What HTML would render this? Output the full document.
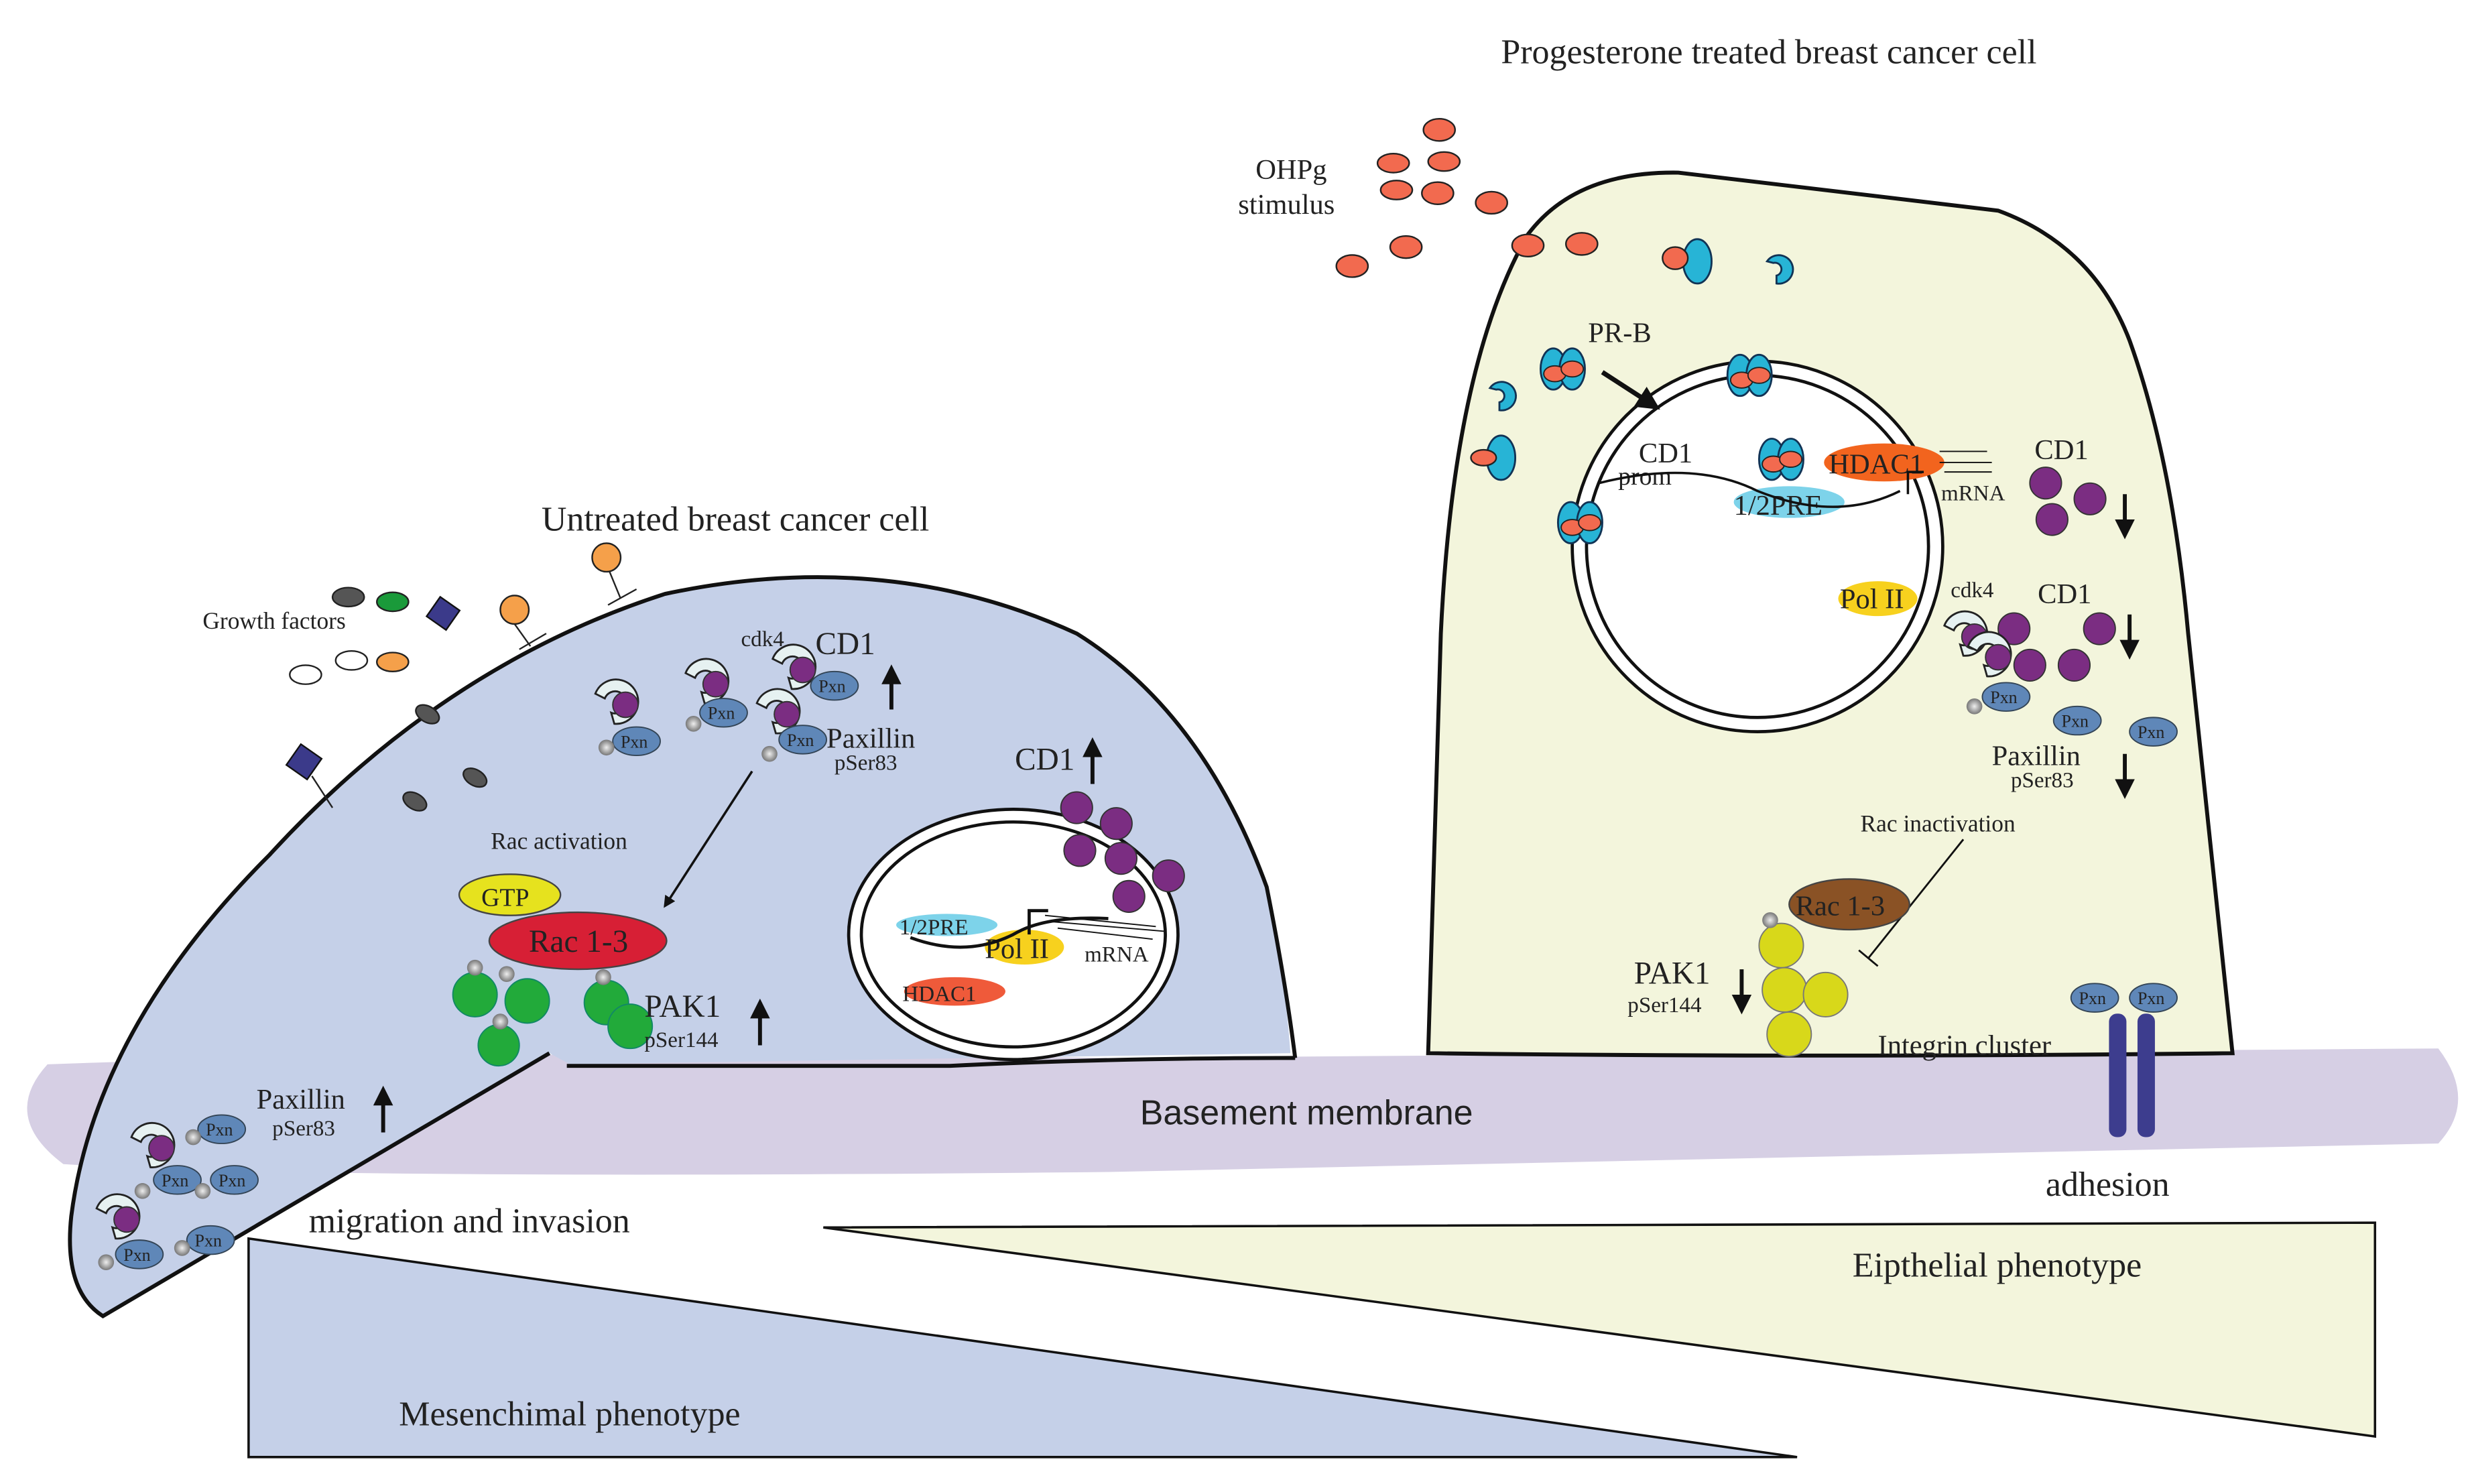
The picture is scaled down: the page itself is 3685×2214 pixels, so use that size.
<!DOCTYPE html>
<html><head><meta charset="utf-8"><style>
html,body{margin:0;padding:0;background:#fff}
svg{display:block}
text{font-family:"Liberation Serif",serif;fill:#222}
.s{font-family:"Liberation Sans",sans-serif}
</style></head><body>
<svg width="3685" height="2214" viewBox="0 0 1560 937" preserveAspectRatio="none" xmlns="http://www.w3.org/2000/svg">
<defs>
<marker id="ah" viewBox="0 0 10 10" refX="8" refY="5" markerWidth="5" markerHeight="5" orient="auto"><path d="M0,0 L10,5 L0,10 Z" fill="#111"/></marker>
<g id="pr"><path d="M-9,-7 a9,9 0 1,1 6,14 l0,-5 a4,4 0 1,0 -2,-8 z" fill="#27b4d6" stroke="#135" stroke-width="1.2"/></g>
<g id="prc"><ellipse cx="-6" cy="0" rx="8" ry="13" fill="#27b4d6" stroke="#135" stroke-width="1.2"/><ellipse cx="6" cy="0" rx="8" ry="13" fill="#27b4d6" stroke="#135" stroke-width="1.2"/><ellipse cx="-5" cy="3" rx="7" ry="5" fill="#f26a4f" stroke="#222" stroke-width="0.8"/><ellipse cx="6" cy="0" rx="7" ry="5" fill="#f26a4f" stroke="#222" stroke-width="0.8"/></g>
<g id="cdk"><path d="M-12,-7 a14,14 0 1,1 12,19 l-2,-7 a7,7 0 1,0 -4,-9z" fill="#e6f1f1" stroke="#222" stroke-width="1.2"/><circle cx="7" cy="0" r="8" fill="#7b2d82" stroke="#333" stroke-width="0.8"/></g>
<g id="pxn"><ellipse cx="0" cy="0" rx="15" ry="9" fill="#5f87b8" stroke="#345" stroke-width="0.8"/><text x="-10" y="4" font-size="11">Pxn</text></g>
<radialGradient id="pg"><stop offset="0" stop-color="#eee"/><stop offset="1" stop-color="#777"/></radialGradient>
</defs>

<path d="M30,672 Q300,662 700,668 L1540,662 Q1565,695 1540,722 L700,740 Q200,745 40,735 Q0,705 30,672Z" fill="#d6cfe4"/>
<text x="720" y="710" font-size="22" class="s">Basement membrane</text>

<polygon points="157,782 157,920 1135,920" fill="#c5d0e8" stroke="#111" stroke-width="1.5"/>
<polygon points="520,775 1500,772 1500,907" fill="#f3f5dc" stroke="#111" stroke-width="1.5"/>
<text x="252" y="900" font-size="22">Mesenchimal phenotype</text>
<text x="1170" y="806" font-size="22">Eipthelial phenotype</text>
<rect x="190" y="755" width="260" height="25" fill="#fff"/>
<text x="195" y="778" font-size="22">migration and invasion</text>
<text x="1292" y="755" font-size="22">adhesion</text>

<path d="M815,665 L360,672 L347,665 L65,831 Q40,815 45,768 Q60,650 170,540 Q280,420 420,375 Q560,345 680,400 Q760,450 800,560 Q812,620 815,665Z" fill="#c5d0e8" stroke="none"/>
<path d="M347,665 L65,831 Q40,815 45,768 Q60,650 170,540 Q280,420 420,375 Q560,345 680,400 Q760,450 800,560 Q812,620 818,668" fill="none" stroke="#111" stroke-width="2.5"/>
<path d="M358,673 L600,673 Q700,668 818,668" stroke="#111" stroke-width="2.5" fill="none"/>

<path d="M902,665 L910,400 Q918,230 965,148 Q995,108 1060,109 L1262,133 Q1322,155 1345,215 Q1372,290 1382,400 L1410,665 Q1150,668 902,665Z" fill="#f3f5dc" stroke="#111" stroke-width="2.5"/>

<text x="342" y="335" font-size="22">Untreated breast cancer cell</text>
<text x="948" y="40" font-size="22">Progesterone treated breast cancer cell</text>

<text x="128" y="397" font-size="15">Growth factors</text>
<ellipse cx="220" cy="377" rx="10" ry="6" fill="#555" stroke="#222"/>
<ellipse cx="248" cy="380" rx="10" ry="6" fill="#1a9a3a" stroke="#222"/>
<rect x="272" y="380" width="15" height="15" transform="rotate(35 280 388)" fill="#3b3a8a" stroke="#111"/>
<ellipse cx="193" cy="426" rx="10" ry="6" fill="#fff" stroke="#222"/>
<ellipse cx="222" cy="417" rx="10" ry="6" fill="#fff" stroke="#222"/>
<ellipse cx="248" cy="418" rx="10" ry="6" fill="#f5a04a" stroke="#222"/>
<ellipse cx="270" cy="451" rx="8" ry="5" fill="#555" stroke="#222" transform="rotate(30 270 451)"/>
<ellipse cx="262" cy="506" rx="8" ry="5" fill="#555" stroke="#222" transform="rotate(30 262 506)"/>
<ellipse cx="300" cy="491" rx="8" ry="5" fill="#555" stroke="#222" transform="rotate(30 300 491)"/>
<circle cx="325" cy="385" r="9" fill="#f5a04a" stroke="#222"/><path d="M325,394 L335,408 M328,410 L345,400" stroke="#222" fill="none"/>
<circle cx="383" cy="352" r="9" fill="#f5a04a" stroke="#222"/><path d="M385,361 L392,378 M384,382 L402,372" stroke="#222" fill="none"/>
<rect x="184" y="473" width="16" height="16" transform="rotate(35 192 481)" fill="#3b3a8a" stroke="#111"/><path d="M197,490 L210,510" stroke="#222"/>

<use href="#cdk" x="388" y="445"/><use href="#pxn" x="402" y="468"/><circle cx="383" cy="472" r="5" fill="url(#pg)"/>
<use href="#cdk" x="445" y="432"/><use href="#pxn" x="457" y="450"/><circle cx="438" cy="457" r="5" fill="url(#pg)"/>
<use href="#cdk" x="500" y="423"/><use href="#pxn" x="527" y="433"/>
<use href="#cdk" x="490" y="451"/><use href="#pxn" x="507" y="467"/><circle cx="486" cy="476" r="5" fill="url(#pg)"/>
<text x="468" y="408" font-size="14">cdk4</text>
<text x="515" y="413" font-size="20">CD1</text>
<path d="M563,448 L563,422" stroke="#111" stroke-width="2.5" marker-end="url(#ah)"/>
<text x="522" y="472" font-size="18">Paxillin</text><text x="527" y="486" font-size="14">pSer83</text>
<text x="310" y="536" font-size="15">Rac activation</text>
<path d="M475,487 L420,572" stroke="#111" stroke-width="1.5" marker-end="url(#ah)"/>
<ellipse cx="322" cy="565" rx="32" ry="13" fill="#e6e21e" stroke="#444"/><text x="304" y="572" font-size="16">GTP</text>
<ellipse cx="365" cy="594" rx="56" ry="18" fill="#d71f35" stroke="#444"/><text x="334" y="601" font-size="20">Rac 1-3</text>
<g fill="#22aa3a" stroke="#186" stroke-width="0.8">
<circle cx="300" cy="628" r="14"/><circle cx="333" cy="632" r="14"/><circle cx="315" cy="660" r="13"/><circle cx="383" cy="633" r="14"/><circle cx="398" cy="648" r="14"/></g>
<g fill="url(#pg)"><circle cx="300" cy="611" r="5"/><circle cx="320" cy="615" r="5"/><circle cx="316" cy="645" r="5"/><circle cx="381" cy="617" r="5"/></g>
<text x="407" y="642" font-size="20">PAK1</text><text x="407" y="661" font-size="14">pSer144</text>
<path d="M480,660 L480,633" stroke="#111" stroke-width="2.5" marker-end="url(#ah)"/>

<use href="#cdk" x="95" y="725"/><use href="#pxn" x="140" y="713"/><circle cx="122" cy="718" r="5" fill="url(#pg)"/>
<use href="#pxn" x="112" y="745"/><circle cx="90" cy="752" r="5" fill="url(#pg)"/><use href="#pxn" x="148" y="745"/><circle cx="128" cy="752" r="5" fill="url(#pg)"/>
<use href="#cdk" x="73" y="770"/><use href="#pxn" x="88" y="792"/><circle cx="67" cy="797" r="5" fill="url(#pg)"/><use href="#pxn" x="133" y="783"/><circle cx="115" cy="788" r="5" fill="url(#pg)"/>
<text x="162" y="700" font-size="18">Paxillin</text><text x="172" y="717" font-size="14">pSer83</text>
<path d="M242,715 L242,688" stroke="#111" stroke-width="2.5" marker-end="url(#ah)"/>

<ellipse cx="640" cy="590" rx="104" ry="79" fill="#fff" stroke="#111" stroke-width="2"/>
<ellipse cx="640" cy="590" rx="96" ry="71" fill="none" stroke="#111" stroke-width="2"/>
<ellipse cx="598" cy="584" rx="32" ry="7" fill="#7dd3ea"/><text x="568" y="590" font-size="14">1/2PRE</text>
<ellipse cx="647" cy="598" rx="25" ry="11" fill="#f7d11e"/><text x="622" y="605" font-size="18">Pol II</text>
<ellipse cx="603" cy="626" rx="32" ry="9" fill="#ef5a3a"/><text x="570" y="632" font-size="14">HDAC1</text>
<path d="M575,592 Q610,605 640,590 Q660,578 700,580 M650,590 L650,575 L662,575" stroke="#111" fill="none" stroke-width="2"/>
<path d="M660,578 L730,585 M665,582 L735,588 M668,586 L728,593" stroke="#111" stroke-width="0.8"/>
<text x="685" y="607" font-size="14">mRNA</text>
<text x="641" y="486" font-size="20">CD1</text>
<path d="M690,495 L690,468" stroke="#111" stroke-width="2.5" marker-end="url(#ah)"/>
<g fill="#7b2d82" stroke="#333" stroke-width="0.8"><circle cx="680" cy="510" r="10"/><circle cx="705" cy="520" r="10"/><circle cx="682" cy="537" r="10"/><circle cx="708" cy="542" r="10"/><circle cx="738" cy="553" r="10"/><circle cx="713" cy="566" r="10"/></g>

<text x="793" y="113" font-size="18">OHPg</text><text x="782" y="135" font-size="18">stimulus</text>
<g fill="#f26a4f" stroke="#222" stroke-width="1">
<ellipse cx="909" cy="82" rx="10" ry="7"/><ellipse cx="880" cy="103" rx="10" ry="6"/><ellipse cx="912" cy="102" rx="10" ry="6"/>
<ellipse cx="882" cy="120" rx="10" ry="6"/><ellipse cx="908" cy="122" rx="10" ry="7"/><ellipse cx="942" cy="128" rx="10" ry="7"/>
<ellipse cx="888" cy="156" rx="10" ry="7"/><ellipse cx="854" cy="168" rx="10" ry="7"/><ellipse cx="965" cy="155" rx="10" ry="7"/><ellipse cx="999" cy="154" rx="10" ry="7"/></g>

<circle cx="1110" cy="345" r="117" fill="#fff" stroke="#111" stroke-width="2"/>
<circle cx="1110" cy="345" r="108" fill="none" stroke="#111" stroke-width="2"/>

<ellipse cx="1072" cy="165" rx="9" ry="14" fill="#27b4d6" stroke="#135" stroke-width="1.2"/><ellipse cx="1058" cy="163" rx="8" ry="7" fill="#f26a4f" stroke="#222"/>
<use href="#pr" x="1125" y="172"/>
<use href="#prc" x="987" y="233"/><use href="#pr" x="950" y="252"/>
<ellipse cx="948" cy="289" rx="9" ry="14" fill="#27b4d6" stroke="#135" stroke-width="1.2"/><ellipse cx="937" cy="289" rx="8" ry="5" fill="#f26a4f" stroke="#222"/>
<use href="#prc" x="1105" y="237"/><use href="#prc" x="998" y="330"/>
<text x="1003" y="216" font-size="18">PR-B</text>
<path d="M1012,235 L1046,257" stroke="#111" stroke-width="3" marker-end="url(#ah)"/>

<ellipse cx="1130" cy="317" rx="35" ry="10" fill="#7dd3ea"/>
<ellipse cx="1190" cy="292" rx="38" ry="12" fill="#f2641e"/><text x="1155" y="299" font-size="18">HDAC1</text>
<use href="#prc" x="1125" y="290"/>
<text x="1035" y="292" font-size="18">CD1</text><text x="1022" y="306" font-size="16">prom</text>
<text x="1095" y="325" font-size="18">1/2PRE</text>
<path d="M1010,305 Q1070,290 1110,310 Q1160,330 1200,310 M1205,312 L1205,298 L1215,298" stroke="#111" fill="none" stroke-width="1.5"/>
<path d="M1225,285 L1255,285 M1225,292 L1258,292 M1228,298 L1258,298" stroke="#111" stroke-width="0.8"/>
<text x="1226" y="316" font-size="14">mRNA</text>
<ellipse cx="1186" cy="378" rx="25" ry="11" fill="#f7d11e"/><text x="1162" y="384" font-size="18">Pol II</text>
<text x="1285" y="290" font-size="18">CD1</text>
<g fill="#7b2d82" stroke="#333" stroke-width="0.8"><circle cx="1292" cy="305" r="10"/><circle cx="1320" cy="315" r="10"/><circle cx="1296" cy="328" r="10"/>
<circle cx="1272" cy="397" r="10"/><circle cx="1326" cy="397" r="10"/><circle cx="1282" cy="420" r="10"/><circle cx="1310" cy="420" r="10"/></g>
<path d="M1342,312 L1342,338" stroke="#111" stroke-width="2.5" marker-end="url(#ah)"/>
<text x="1232" y="377" font-size="14">cdk4</text><text x="1287" y="381" font-size="18">CD1</text>
<path d="M1345,388 L1345,414" stroke="#111" stroke-width="2.5" marker-end="url(#ah)"/>
<use href="#cdk" x="1240" y="402"/><use href="#cdk" x="1255" y="415"/><use href="#pxn" x="1267" y="440"/><circle cx="1247" cy="446" r="5" fill="url(#pg)"/>
<use href="#pxn" x="1312" y="455"/><use href="#pxn" x="1360" y="462"/>
<text x="1258" y="483" font-size="18">Paxillin</text><text x="1270" y="497" font-size="14">pSer83</text>
<path d="M1342,476 L1342,502" stroke="#111" stroke-width="2.5" marker-end="url(#ah)"/>
<text x="1175" y="525" font-size="15">Rac inactivation</text>
<path d="M1240,530 L1180,605 M1174,600 L1186,610" stroke="#111" stroke-width="1.2"/>
<ellipse cx="1168" cy="571" rx="38" ry="16" fill="#8a5225" stroke="#444"/><text x="1134" y="578" font-size="18">Rac 1-3</text>
<g fill="#d8d81a" stroke="#777" stroke-width="0.8"><circle cx="1125" cy="597" r="14"/><circle cx="1127" cy="625" r="14"/><circle cx="1153" cy="628" r="14"/><circle cx="1130" cy="653" r="14"/></g>
<circle cx="1118" cy="581" r="5" fill="url(#pg)"/>
<text x="1032" y="621" font-size="20">PAK1</text><text x="1028" y="639" font-size="14">pSer144</text>
<path d="M1100,612 L1100,638" stroke="#111" stroke-width="2.5" marker-end="url(#ah)"/>
<text x="1186" y="666" font-size="18">Integrin cluster</text>
<rect x="1332" y="640" width="11" height="78" rx="5" fill="#3d3d8e"/><rect x="1350" y="640" width="11" height="78" rx="5" fill="#3d3d8e"/>
<use href="#pxn" x="1323" y="630"/><use href="#pxn" x="1360" y="630"/>
</svg>
</body></html>
